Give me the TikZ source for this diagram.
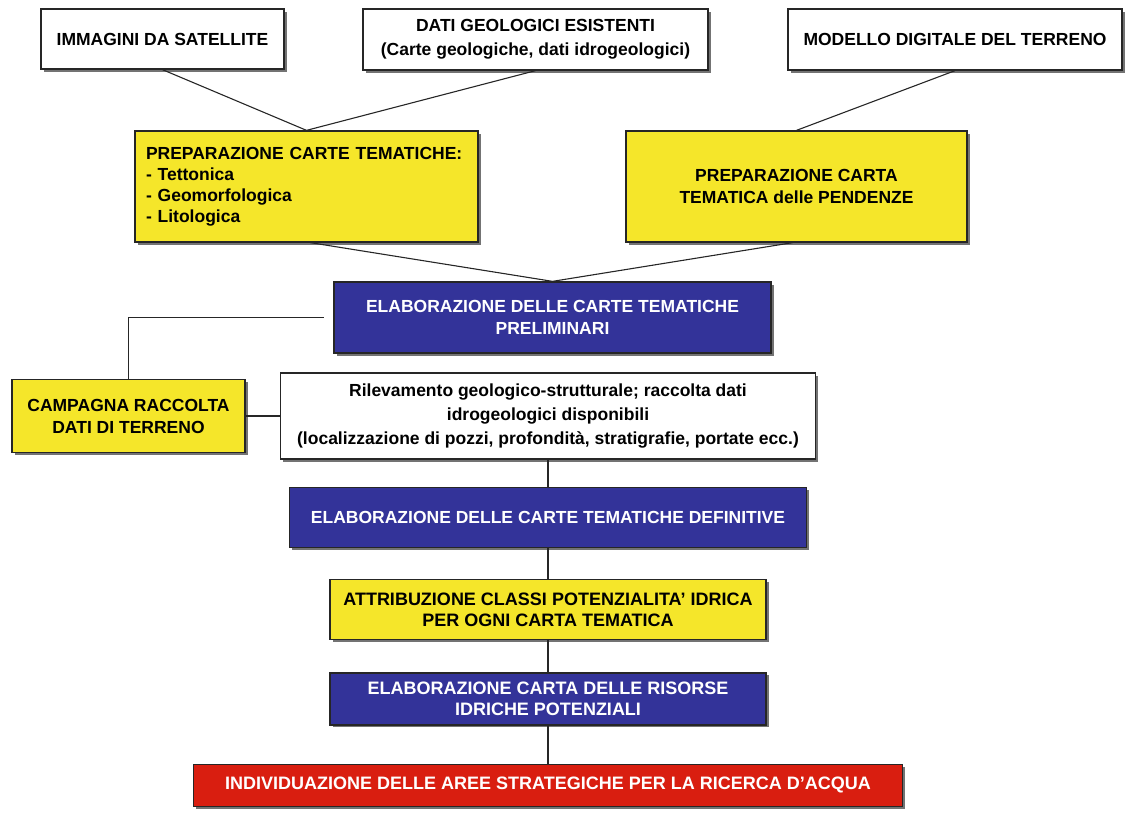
\documentclass[tikz,border=0pt]{standalone}
\usepackage{fontspec}
\setmainfont{Liberation Sans}
\usetikzlibrary{positioning,shadows}
\definecolor{boxyellow}{RGB}{245,230,42}
\definecolor{boxblue}{RGB}{51,51,153}
\definecolor{boxred}{RGB}{217,30,16}

\begin{document}
\begin{tikzpicture}[x=1pt,y=-1pt,
    box/.style = {draw=black!85, line width=1.3pt, rectangle, align=center, inner sep=0pt,
        font=\bfseries\fontsize{17.5}{22}\selectfont,
        drop shadow={shadow xshift=2.5pt, shadow yshift=-2.5pt, fill=black!55, opacity=1}},
    whitebox/.style = {box, fill=white},
    yellowbox/.style = {box, fill=boxyellow},
    bluebox/.style = {box, fill=boxblue, text=white},
    redbox/.style = {box, fill=boxred, text=white},
    large/.style = {font=\bfseries\fontsize{18}{21}\selectfont},
    spaced/.style = {font=\bfseries\fontsize{17.5}{24}\selectfont},
    link/.style = {draw=black!85, line width=1.1pt}]
    \useasboundingbox (0,0) rectangle (1126,823);

    \node[whitebox, minimum width=243pt, minimum height=60pt] (imm) at (162.5,39) {IMMAGINI DA SATELLITE};
    \node[whitebox, spaced, minimum width=345pt, minimum height=61pt] (geo) at (535.5,39.5) {DATI GEOLOGICI ESISTENTI\\(Carte geologiche, dati idrogeologici)};
    \node[whitebox, minimum width=334pt, minimum height=61pt] (dtm) at (955,39.5) {MODELLO DIGITALE DEL TERRENO};

    \node[yellowbox, minimum width=343pt, minimum height=111pt, align=left, text width=321pt, font=\bfseries\fontsize{17.5}{21}\selectfont] (tema) at (306.5,186.5) {PREPARAZIONE CARTE TEMATICHE:\\- Tettonica\\- Geomorfologica\\- Litologica};
    \node[yellowbox, minimum width=341pt, minimum height=111pt] (pend) at (796.5,186.5) {PREPARAZIONE CARTA\\TEMATICA delle PENDENZE};

    \node[bluebox, minimum width=437pt, minimum height=71pt] (prel) at (552.5,317.5) {ELABORAZIONE DELLE CARTE TEMATICHE\\PRELIMINARI};
    \node[yellowbox, minimum width=233pt, minimum height=73pt] (camp) at (128.5,416) {CAMPAGNA RACCOLTA\\DATI DI TERRENO};
    \node[whitebox, spaced, minimum width=535pt, minimum height=86pt] (ril) at (548,416) {Rilevamento geologico-strutturale; raccolta dati\\idrogeologici disponibili\\(localizzazione di pozzi, profondità, stratigrafie, portate ecc.)};

    \node[bluebox, minimum width=517pt, minimum height=60pt, below=27pt of ril] (defin) {ELABORAZIONE DELLE CARTE TEMATICHE DEFINITIVE};
    \node[yellowbox, large, minimum width=436pt, minimum height=60pt, below=31pt of defin] (attr) {ATTRIBUZIONE CLASSI POTENZIALITA’ IDRICA\\PER OGNI CARTA TEMATICA};
    \node[bluebox, large, minimum width=436pt, minimum height=52pt, below=32pt of attr] (riso) {ELABORAZIONE CARTA DELLE RISORSE\\IDRICHE POTENZIALI};
    \node[redbox, large, minimum width=709pt, minimum height=42pt, below=38pt of riso] (indiv) {INDIVIDUAZIONE DELLE AREE STRATEGICHE PER LA RICERCA D’ACQUA};

    \draw[link] (imm.south) -- (tema.north);
    \draw[link] (geo.south) -- (tema.north);
    \draw[link] (dtm.south) -- (pend.north);
    \draw[link] ([xshift=4pt]tema.south) -- (prel.north);
    \draw[link] ([xshift=-4pt]pend.south) -- (prel.north);
    \draw[link, shorten >=9pt] (camp.north) |- (prel.west);
    \draw[link] (camp.east) -- (ril.west);
    \draw[link] (ril) -- (defin);
    \draw[link] (defin) -- (attr);
    \draw[link] (attr) -- (riso);
    \draw[link] (riso) -- (indiv);
\end{tikzpicture}
\end{document}
